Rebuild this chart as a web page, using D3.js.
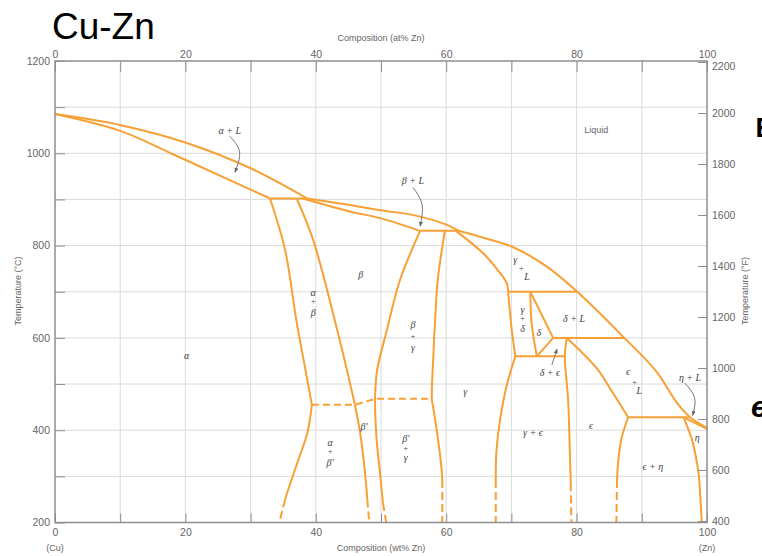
<!DOCTYPE html>
<html><head><meta charset="utf-8">
<script src="https://cdn.jsdelivr.net/npm/d3@7"></script>
<style>
html,body{margin:0;padding:0;background:#fff;}
svg{display:block;}
</style></head><body>
<svg id="chart" width="762" height="556"></svg>
<script>
// ---- Phase boundaries of the Cu–Zn system: [wt% Zn, temperature °C] ----
const liquidusAlpha = [[0,1085],[10.1,1061],[20.1,1023],[30.1,967],[38.7,902]];
const solidusAlpha  = [[0,1085],[10.1,1048],[18.1,998],[26.8,942],[33,902]];
const liquidusBeta  = [[38.7,902],[45.2,888],[50.2,876],[55,866],[60.1,845],[61.9,832]];
const solidusBeta   = [[38,902],[45.2,874],[50,859],[56,832]];
const liquidusGamma = [[61.9,832],[65.2,819],[70.2,797],[75.5,754],[80.1,700]];
const liquidusDelta = [[80.1,700],[83.6,653],[87.3,600]];
const liquidusEps   = [[87.3,600],[92.3,526],[95.4,459],[97.4,428],[100,405]];
const solidusEta    = [[96.4,428],[100,403]];

const alphaSolvusHigh = [[33,901],[35.3,790],[37,639],[38.2,547],[39.4,455]];
const alphaSolvusLow  = [[39.4,455],[38.7,394],[37.3,335],[35.6,264],[35.3,250]];
const alphaSolvusDash = [[35.3,250],[34.4,200]];

const betaLeftHigh = [[37.1,901],[39.6,812],[42.9,639],[44.5,547],[46,455]];
const betaLeftLow  = [[46,455],[46.8,394],[47.5,314],[47.9,250]];
const betaLeftDash = [[47.9,250],[48.2,200]];

const betaRight     = [[56,832],[52.9,725],[50.9,617],[49.4,530],[49.1,472],[49.3,385],[49.8,314],[50.3,242]];
const betaRightDash = [[50.3,242],[50.8,200]];

const gammaLeft     = [[59.8,832],[58.7,725],[58.3,639],[58,552],[57.8,468],[58,450],[58.7,385],[59.3,314],[59.4,292]];
const gammaLeftDash = [[59.4,292],[59.4,200]];

const gammaSolidus  = [[61.5,832],[65.7,783],[68.3,740],[69.3,718],[69.5,700]];
const gammaDelta    = [[69.5,700],[70,624],[70.6,560]];
const gammaEpsLeft  = [[70.6,560],[69.3,498],[68.3,426],[67.7,353],[67.6,292]];
const gammaEpsDash  = [[67.6,292],[67.6,200]];

const deltaLeft   = [[72.9,700],[73.1,632],[73.9,560]];
const deltaTop    = [[72.9,700],[76.4,600]];
const deltaBottom = [[76.4,600],[73.9,560]];

const epsLeft     = [[78.5,600],[78.2,560],[78.7,465],[79,335],[79.1,285]];
const epsLeftDash = [[79.1,285],[79.2,200]];
const epsLiquid   = [[78.5,600],[83.1,534],[85.6,480],[87.9,428]];
const epsRight    = [[87.9,428],[86.9,383],[86.4,335],[86.2,292]];
const epsRightDash= [[86.2,292],[86.1,200]];

const etaLeft = [[96.4,428],[97.7,379],[98.7,307],[99,249],[99.2,200]];

// invariant (horizontal) reactions: [temperature, from wt%, to wt%]
const isotherms = [[902,33,38.7],[832,56,61.9],[700,69.5,80.1],[600,76.4,87.3],[560,70.6,78.2],[428,87.9,97.4]];
// ordering transition beta -> beta'
const orderingLine = [[39.4,455],[46,455],[49.1,468],[57.8,468]];

// ---- tick values ----
const wtTicks   = d3.range(0,101,10);
const wtLabels  = [0,20,40,60,80,100];
const atLabels  = [0,20,40,60,80,100];
const cTicks    = d3.range(200,1201,100);
const cLabels   = [200,400,600,800,1000,1200];
const fTicks    = [400,600,800,1000,1200,1400,1600,1800,2000,2200];

// ---- field labels: [text, wt%, °C] ----
const fieldLabels = [
  ["α",20.2,561],
  ["α",39.6,699],["+",39.6,679],["β",39.6,656],
  ["β",46.9,738],
  ["β",54.9,628],["+",54.9,603],["γ",54.9,580],
  ["γ",62.9,483],
  ["γ",70.6,769],["+",71.5,751],["L",72.4,732],
  ["γ",71.7,662],["+",71.7,642],["δ",71.7,620],
  ["δ",74.2,611],
  ["δ + L",79.6,643],
  ["δ + ϵ",75.9,524],
  ["ϵ",87.9,528],["+",88.9,505],["L",89.6,485],
  ["ϵ",82.2,411],
  ["γ + ϵ",73.3,396],
  ["ϵ + η",91.7,322],
  ["η",98.5,385],
  ["η + L",97.4,515],
  ["α + L",26.8,1050],
  ["β + L",54.9,940],
  ["β′",47.4,409],
  ["α",42.2,374],["+",42.2,355],["β′",42.2,331],
  ["β′",53.8,383],["+",53.8,361],["γ",53.8,340]
];
// leader arrows for the narrow two-phase fields
const leaders = [
  [[26.8,1037],[28.3,1003],[27.6,959]],
  [[54.9,926],[56.3,889],[56,842]],
  [[96.6,502],[98.1,470],[97.8,432]],
  [[76.2,541],[77,576]]
];

// ---- scales ----
const x  = d3.scaleLinear().domain([0,100]).range([55,707]);
const y  = d3.scaleLinear().domain([200,1200]).range([522.5,61]);
const yF = d3.scaleLinear().domain([400,2200]).range([521,62]);

const svg = d3.select("#chart");
const ORANGE = "#f7a035";
const GRID = "#dadada";
const AXIS = "#8e8e8e";
const TEXT = "#666";

// grid
const grid = svg.append("g");
grid.selectAll("line.v").data(wtTicks.slice(1,-1)).join("line")
  .attr("x1",d=>x(d)).attr("x2",d=>x(d)).attr("y1",y(1200)).attr("y2",y(200))
  .attr("stroke",GRID).attr("stroke-width",1);
grid.selectAll("line.h").data(cTicks.slice(1,-1)).join("line")
  .attr("y1",d=>y(d)).attr("y2",d=>y(d)).attr("x1",x(0)).attr("x2",x(100))
  .attr("stroke",GRID).attr("stroke-width",1);

// boundaries
const smooth = d3.line().x(d=>x(d[0])).y(d=>y(d[1])).curve(d3.curveCatmullRom.alpha(0.5));
const straight = d3.line().x(d=>x(d[0])).y(d=>y(d[1]));
const bounds = svg.append("g").attr("fill","none").attr("stroke",ORANGE)
  .attr("stroke-width",2).attr("stroke-linejoin","round");

const solidCurves = [liquidusAlpha,solidusAlpha,liquidusBeta,solidusBeta,liquidusGamma,liquidusDelta,
  liquidusEps,alphaSolvusHigh,alphaSolvusLow,betaLeftHigh,betaLeftLow,betaRight,gammaLeft,
  gammaSolidus,gammaDelta,gammaEpsLeft,deltaLeft,epsLeft,epsLiquid,epsRight,etaLeft];
bounds.selectAll("path.c").data(solidCurves).join("path").attr("d",smooth);
bounds.selectAll("path.s").data([deltaTop,deltaBottom,solidusEta]).join("path").attr("d",straight);
bounds.selectAll("line.iso").data(isotherms).join("line")
  .attr("x1",d=>x(d[1])).attr("x2",d=>x(d[2])).attr("y1",d=>y(d[0])).attr("y2",d=>y(d[0]));

const dashed = [alphaSolvusDash,betaLeftDash,betaRightDash,gammaLeftDash,gammaEpsDash,epsLeftDash,epsRightDash];
bounds.selectAll("path.d").data(dashed).join("path").attr("d",straight).attr("stroke-dasharray","8,4");
bounds.append("path").attr("d",straight(orderingLine)).attr("stroke-dasharray","7,4");

// frame
svg.append("rect").attr("x",x(0)).attr("y",y(1200)).attr("width",x(100)-x(0)).attr("height",y(200)-y(1200))
  .attr("fill","none").attr("stroke",AXIS).attr("stroke-width",1.5);

// axes
function styleAxis(g){
  g.select(".domain").remove();
  g.selectAll(".tick line").attr("stroke",AXIS).attr("stroke-width",1);
  g.selectAll(".tick text").attr("fill",TEXT).attr("font-family","Liberation Sans, Arial, sans-serif").attr("font-size","10.5px");
}
svg.append("g").attr("transform",`translate(0,${y(200)})`)
  .call(d3.axisBottom(x).tickValues(wtTicks).tickSize(-9).tickPadding(6).tickFormat(d=>wtLabels.includes(d)?d:""))
  .call(styleAxis);
svg.append("g").attr("transform",`translate(0,${y(1200)})`)
  .call(d3.axisTop(x).tickValues(wtTicks).tickSize(-11).tickPadding(3).tickFormat(d=>atLabels.includes(d)?d:""))
  .call(styleAxis);
svg.append("g").attr("transform",`translate(${x(0)},0)`)
  .call(d3.axisLeft(y).tickValues(cTicks).tickSize(-10).tickPadding(5).tickFormat(d=>cLabels.includes(d)?d:""))
  .call(styleAxis);
svg.append("g").attr("transform",`translate(${x(100)},0)`)
  .call(d3.axisRight(yF).tickValues(fTicks).tickSize(-9).tickPadding(5).tickFormat(d3.format("d")))
  .call(styleAxis)
  .selectAll(".tick text").attr("dy",d=>d===2200?"0.75em":"0.32em");

// axis titles
const sans = "Liberation Sans, Arial, sans-serif";
const small = (t,px,py,anchor="middle",rot=0)=>{
  const e = svg.append("text").text(t).attr("font-family",sans).attr("font-size","9px").attr("fill",TEXT)
    .attr("text-anchor",anchor);
  if(rot) e.attr("transform",`translate(${px},${py}) rotate(${rot})`).attr("dy","0.35em");
  else e.attr("x",px).attr("y",py);
  return e;
};
small("Composition (at% Zn)",381,41);
small("Composition (wt% Zn)",381,551);
small("(Cu)",x(0),551);
small("(Zn)",x(100),551);
small("Temperature (°C)",18,291,"middle",-90);
small("Temperature (°F)",745,291,"middle",-90);

// field labels
const lab = svg.append("g").attr("font-family","Liberation Serif, DejaVu Serif, serif")
  .attr("font-style","italic").attr("font-size","10px").attr("fill","#444").attr("text-anchor","middle");
lab.selectAll("text").data(fieldLabels).join("text")
  .attr("x",d=>x(d[1])).attr("y",d=>y(d[2])).attr("dy","0.35em").text(d=>d[0])
  .attr("font-style",d=>d[0]==="+"?"normal":"italic")
  .attr("font-size",d=>d[0]==="+"?"8px":"10px");
svg.append("text").text("Liquid").attr("x",x(83)).attr("y",y(1050)).attr("dy","0.35em")
  .attr("text-anchor","middle").attr("font-family",sans).attr("font-size","9px").attr("fill",TEXT);

// leader arrows
svg.append("defs").append("marker").attr("id","head").attr("viewBox","0 0 10 10").attr("refX",9).attr("refY",5)
  .attr("markerWidth",5).attr("markerHeight",5).attr("orient","auto")
  .append("path").attr("d","M0,1 L10,5 L0,9 Z").attr("fill","#666");
const leaderLine = d3.line().x(d=>x(d[0])).y(d=>y(d[1])).curve(d3.curveNatural);
svg.append("g").selectAll("path").data(leaders).join("path").attr("d",leaderLine)
  .attr("fill","none").attr("stroke","#777").attr("stroke-width",1).attr("marker-end","url(#head)");

// title
svg.append("text").text("Cu-Zn").attr("x",52).attr("y",39).attr("font-family",sans)
  .attr("font-size","37px").attr("fill","#000");

// slide text running in from the right edge
svg.append("text").text("E").attr("x",755.5).attr("y",137).attr("font-family",sans)
  .attr("font-weight","bold").attr("font-size","27px").attr("fill","#000");
svg.append("text").text("e").attr("x",751).attr("y",417).attr("font-family",sans)
  .attr("font-weight","bold").attr("font-style","italic").attr("font-size","30px").attr("fill","#000");
</script></body></html>
